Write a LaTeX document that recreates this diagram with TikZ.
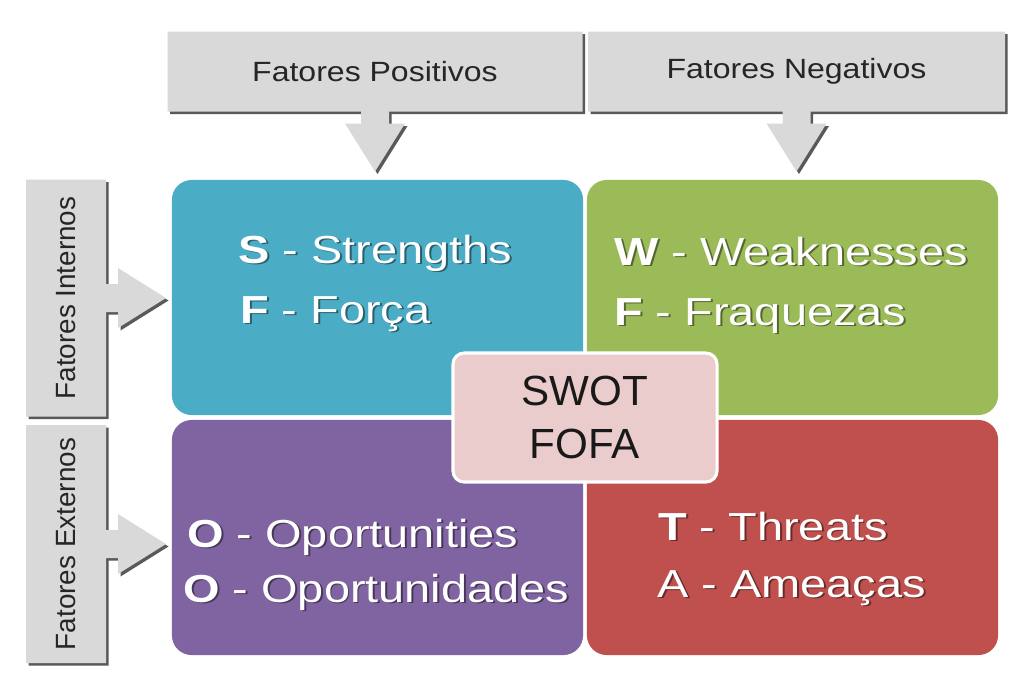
\documentclass[tikz,border=0pt]{standalone}
\usepackage{fontspec}
\setmainfont{Liberation Sans}[FakeStretch=1.2]
\newfontfamily\fontereta{Liberation Sans}
\newfontfamily\fontechamada{Liberation Sans}[FakeStretch=1.15]
\usepackage{tikz}
\newcommand{\prof}{40}
\newcommand{\haste}{14}
\newcommand{\ponta}{30}
\definecolor{azulswot}{RGB}{75,172,198}
\definecolor{verdeswot}{RGB}{155,187,89}
\definecolor{roxoswot}{RGB}{128,100,162}
\definecolor{vermelhoswot}{RGB}{192,80,77}
\definecolor{rosaswot}{RGB}{235,204,204}
\definecolor{cinzaswot}{RGB}{217,217,217}
\tikzstyle{quadro}=[rounded corners=14pt, minimum width=10.275cm, minimum height=5.875cm, inner sep=0]
\tikzstyle{centro}=[rounded corners=8pt, minimum width=6.6cm, minimum height=3.225cm, fill=rosaswot, draw=white, line width=2.2pt, align=center, font=\fontereta\fontsize{30}{37.5}\selectfont, text=black!90]
\tikzstyle{rotulo}=[text=white, font=\fontsize{27.8}{34}\selectfont, inner sep=0, anchor=base west]
\tikzstyle{caixa}=[fill=cinzaswot]
\tikzstyle{sombra}=[fill=black!65]
\tikzstyle{textochamada}=[font=\fontechamada\fontsize{19.8}{24}\selectfont, text=black!85, inner sep=0]
\newcommand{\rotulo}[3]{
  \node[rotulo,text=black,opacity=0.45,xshift=1.3pt,yshift=-1.3pt] (#1-sombra) at #2 {#3};
  \node[rotulo] (#1) at #2 {#3};
}
\newcommand{\chamada}[5]{
  \begin{scope}[shift={#1}]
    \begin{scope}[shift={(2.5,-2.5)},rotate=#2]
      \fill[sombra] (-#3,\prof) -- (#3,\prof) -- (#3,-\prof) -- (\haste,-\prof) -- (\haste,-\prof-12) -- (\ponta,-\prof-12) -- (0,-\prof-60) -- (-\ponta,-\prof-12) -- (-\haste,-\prof-12) -- (-\haste,-\prof) -- (-#3,-\prof) -- cycle;
    \end{scope}
    \begin{scope}[rotate=#2]
      \fill[caixa] (-#3,\prof) -- (#3,\prof) -- (#3,-\prof) -- (\haste,-\prof) -- (\haste,-\prof-12) -- (\ponta,-\prof-12) -- (0,-\prof-60) -- (-\ponta,-\prof-12) -- (-\haste,-\prof-12) -- (-\haste,-\prof) -- (-#3,-\prof) -- cycle;
      \node[textochamada,rotate=#2] (#4) at (0,0) {#5};
    \end{scope}
  \end{scope}
}
\begin{document}
\begin{tikzpicture}[x=0.025cm,y=0.025cm]
\path[use as bounding box,fill=white] (0,0) rectangle (1016,-673);

%quadros
\node[quadro,fill=azulswot] (forca) at (377.5,-297.5) {};
\node[quadro,fill=verdeswot] (fraqueza) at (792.5,-297.5) {};
\node[quadro,fill=roxoswot] (oportunidade) at (377.5,-537.5) {};
\node[quadro,fill=vermelhoswot] (ameaca) at (792.5,-537.5) {};

\rotulo{s1}{(238,-263)}{\textbf{S} - Strengths}
\rotulo{s2}{(240,-323)}{\textbf{F} - Força}
\rotulo{w1}{(614,-265)}{\textbf{W} - Weaknesses}
\rotulo{w2}{(614,-325)}{\textbf{F} - Fraquezas}
\rotulo{o1}{(187,-547)}{\textbf{O} - Oportunities}
\rotulo{o2}{(183,-602)}{\textbf{O} - Oportunidades}
\rotulo{t1}{(658,-540)}{\textbf{T} - Threats}
\rotulo{t2}{(657,-597)}{A - Ameaças}

\node[centro] (swot) at (585,-417.5) {SWOT\\FOFA};

%chamadas
\chamada{(375,-71.5)}{0}{207.5}{positivos}{Fatores Positivos}
\chamada{(796.5,-71.5)}{0}{208.5}{negativos}{Fatores Negativos}
\chamada{(66,-298)}{90}{118.5}{internos}{\fontereta Fatores Internos}
\chamada{(66,-544)}{90}{119}{externos}{\fontereta Fatores Externos}
\end{tikzpicture}
\end{document}
